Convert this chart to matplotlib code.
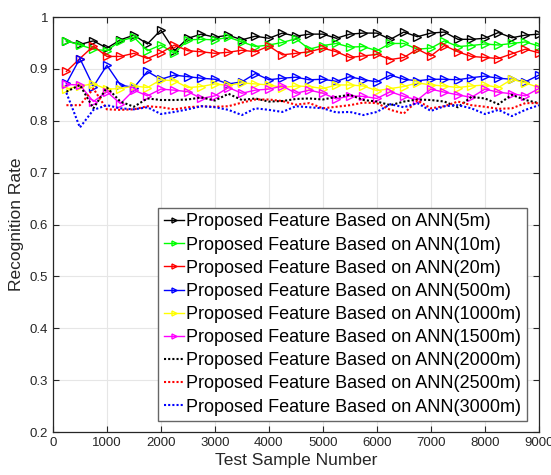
import numpy as np
import matplotlib
matplotlib.use("Agg")
import matplotlib.pyplot as plt

plt.rcParams['font.family'] = ['Liberation Sans', 'DejaVu Sans']

samples = list(range(250, 9001, 250))

ann_5m = [0.954, 0.947, 0.954, 0.940, 0.956, 0.965, 0.948, 0.975, 0.935, 0.959,
          0.967, 0.961, 0.965, 0.956, 0.963, 0.959, 0.969, 0.963, 0.967, 0.967,
          0.959, 0.967, 0.969, 0.969, 0.957, 0.971, 0.962, 0.969, 0.971, 0.957,
          0.957, 0.959, 0.970, 0.960, 0.965, 0.967]
ann_10m = [0.954, 0.946, 0.938, 0.935, 0.954, 0.961, 0.935, 0.946, 0.930, 0.956,
           0.957, 0.956, 0.961, 0.952, 0.943, 0.946, 0.951, 0.958, 0.938, 0.945,
           0.949, 0.942, 0.943, 0.935, 0.949, 0.949, 0.938, 0.940, 0.954, 0.943,
           0.945, 0.948, 0.946, 0.949, 0.952, 0.944]
ann_20m = [0.895, 0.920, 0.944, 0.924, 0.924, 0.930, 0.920, 0.931, 0.946, 0.935,
           0.933, 0.930, 0.932, 0.936, 0.933, 0.944, 0.927, 0.930, 0.933, 0.940,
           0.933, 0.922, 0.925, 0.928, 0.918, 0.922, 0.938, 0.925, 0.945, 0.933,
           0.924, 0.922, 0.920, 0.929, 0.938, 0.931]
ann_500m = [0.872, 0.920, 0.866, 0.907, 0.869, 0.864, 0.895, 0.880, 0.888, 0.885,
            0.882, 0.880, 0.871, 0.875, 0.891, 0.879, 0.882, 0.884, 0.879, 0.880,
            0.876, 0.885, 0.879, 0.875, 0.888, 0.880, 0.877, 0.880, 0.880, 0.879,
            0.883, 0.886, 0.882, 0.880, 0.875, 0.888]
ann_1000m = [0.861, 0.867, 0.871, 0.861, 0.862, 0.867, 0.864, 0.879, 0.877, 0.864,
             0.866, 0.871, 0.868, 0.873, 0.871, 0.869, 0.864, 0.867, 0.866, 0.862,
             0.869, 0.869, 0.867, 0.858, 0.862, 0.866, 0.873, 0.869, 0.867, 0.864,
             0.867, 0.869, 0.864, 0.880, 0.873, 0.864]
ann_1500m = [0.870, 0.869, 0.837, 0.856, 0.833, 0.859, 0.848, 0.861, 0.859, 0.856,
             0.843, 0.848, 0.864, 0.853, 0.859, 0.861, 0.867, 0.853, 0.859, 0.853,
             0.842, 0.848, 0.847, 0.843, 0.856, 0.847, 0.840, 0.861, 0.855, 0.850,
             0.845, 0.861, 0.855, 0.852, 0.848, 0.862]
ann_2000m = [0.856, 0.869, 0.824, 0.864, 0.837, 0.827, 0.843, 0.840, 0.840, 0.841,
             0.845, 0.839, 0.852, 0.840, 0.843, 0.837, 0.838, 0.842, 0.843, 0.841,
             0.846, 0.850, 0.840, 0.837, 0.830, 0.837, 0.841, 0.840, 0.837, 0.826,
             0.846, 0.843, 0.832, 0.850, 0.840, 0.834]
ann_2500m = [0.830, 0.830, 0.862, 0.822, 0.821, 0.822, 0.828, 0.826, 0.822, 0.826,
             0.828, 0.827, 0.828, 0.835, 0.841, 0.841, 0.838, 0.831, 0.834, 0.824,
             0.827, 0.830, 0.835, 0.834, 0.821, 0.814, 0.839, 0.824, 0.828, 0.837,
             0.830, 0.827, 0.823, 0.824, 0.834, 0.834]
ann_3000m = [0.854, 0.787, 0.821, 0.830, 0.824, 0.822, 0.826, 0.813, 0.817, 0.822,
             0.828, 0.826, 0.821, 0.811, 0.824, 0.821, 0.817, 0.828, 0.826, 0.824,
             0.816, 0.817, 0.811, 0.817, 0.832, 0.826, 0.834, 0.819, 0.828, 0.830,
             0.824, 0.813, 0.821, 0.809, 0.821, 0.830]

labels = ['5m', '10m', '20m', '500m', '1000m', '1500m', '2000m', '2500m', '3000m']
series = [ann_5m, ann_10m, ann_20m, ann_500m, ann_1000m, ann_1500m,
          ann_2000m, ann_2500m, ann_3000m]
colors = ['k', '#00ff00', 'r', 'b', '#ffff00', '#ff00ff', 'k', 'r', 'b']

fig = plt.figure(figsize=(5.51, 4.75), dpi=100)
ax = fig.add_axes([0.096, 0.0905, 0.882, 0.8737])

for i, (lab, ys, c) in enumerate(zip(labels, series, colors)):
    name = 'Proposed Feature Based on ANN(%s)' % lab
    if i < 6:
        ax.plot(samples, ys, color=c, lw=1.0, marker='>', markersize=6,
                markerfacecolor='none', markeredgecolor=c, markeredgewidth=1.0,
                label=name)
    else:
        ax.plot(samples, ys, color=c, lw=1.5, linestyle=(0, (1, 1)), label=name)

ax.set_xlim(0, 9000)
ax.set_ylim(0.2, 1.0)
ax.set_xticks(np.arange(0, 9001, 1000))
ax.set_yticks(np.arange(0.2, 1.001, 0.1))
ax.set_yticklabels(['0.2', '0.3', '0.4', '0.5', '0.6', '0.7', '0.8', '0.9', '1'])
ax.tick_params(direction='in', top=True, right=True, labelsize=9.5,
               colors='#262626', length=4)
ax.grid(True, color='#e6e6e6', lw=0.8)
ax.set_axisbelow(True)
for s in ax.spines.values():
    s.set_color('#262626')
    s.set_linewidth(0.9)

ax.set_xlabel('Test Sample Number', fontsize=12.5, color='#262626', labelpad=3)
ax.set_ylabel('Recognition Rate', fontsize=12.5, color='#262626', labelpad=4)

leg = ax.legend(loc='lower right', bbox_to_anchor=(0.975, 0.0265),
                fontsize=13, handlelength=1.1, handletextpad=0.15,
                labelspacing=0.34, borderpad=0.3, borderaxespad=0,
                fancybox=False, framealpha=1, markerscale=0.6)
leg.get_frame().set_edgecolor('#666666')
leg.get_frame().set_linewidth(1.0)

fig.savefig('out.png', dpi=100)
